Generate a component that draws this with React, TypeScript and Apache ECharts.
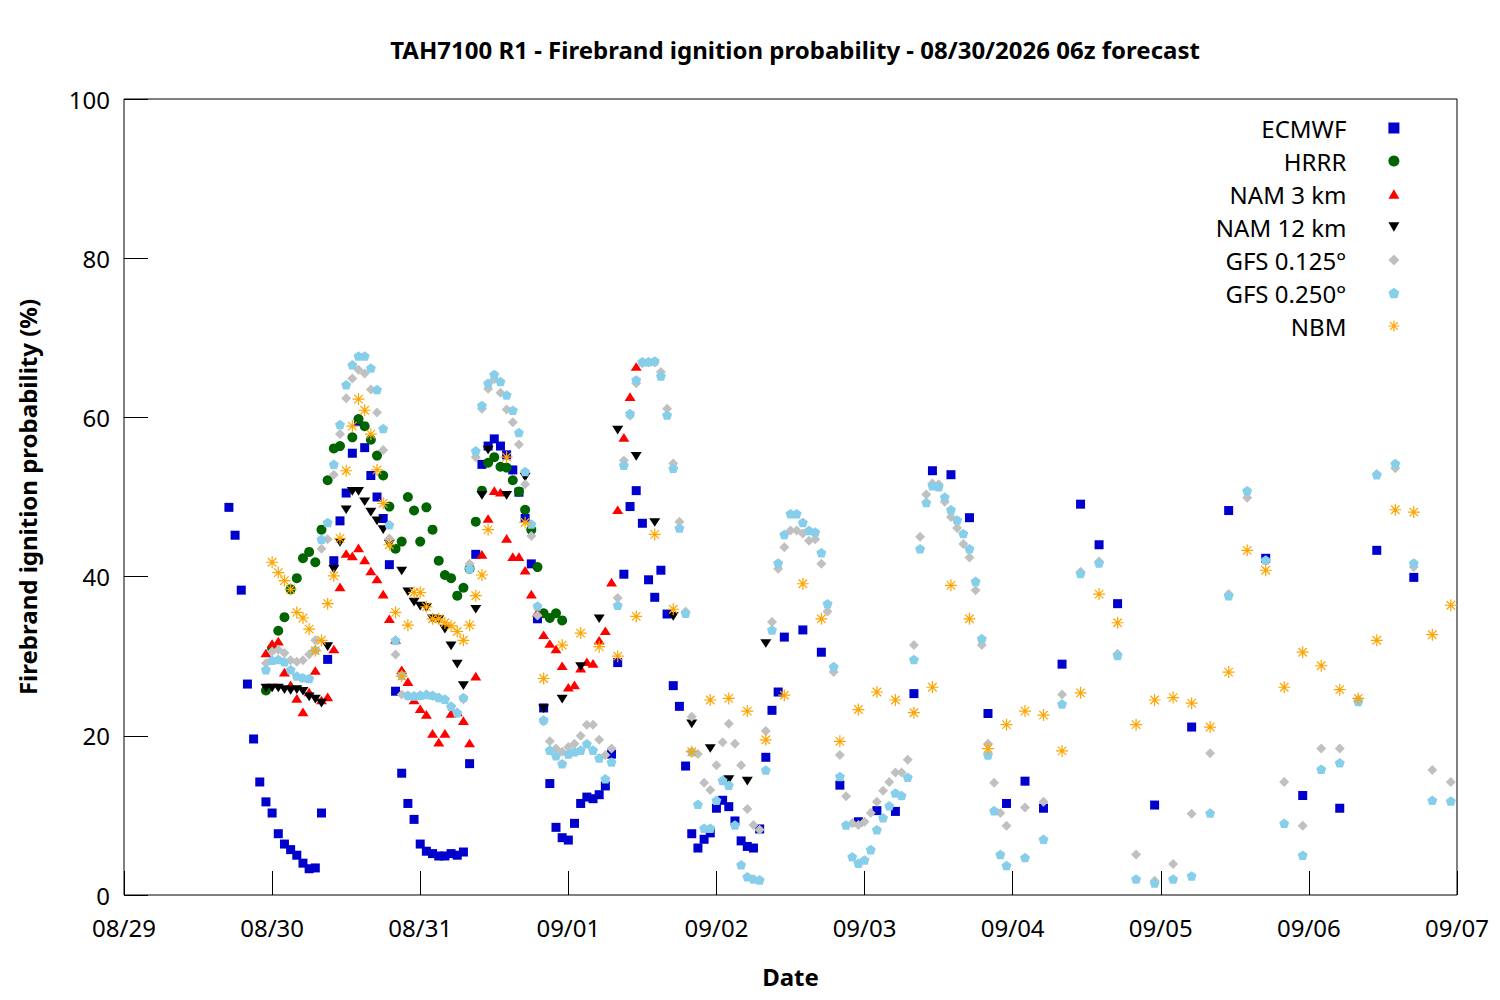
import React, { useEffect, useRef } from "react";
import * as echarts from "echarts";

// x values are hours after 08/29 00z
const dateLabels = ["08/29", "08/30", "08/31", "09/01", "09/02", "09/03", "09/04", "09/05", "09/06", "09/07"];
const seriesNames = ["ECMWF", "HRRR", "NAM 3 km", "NAM 12 km", "GFS 0.125°", "GFS 0.250°", "NBM"];

const ecmwf: [number, number][] = [
  [17, 48.7], [18, 45.2], [19, 38.3], [20, 26.5], [21, 19.6], [22, 14.2], [23, 11.7], [24, 10.3], [25, 7.7], [26, 6.4],
  [27, 5.7], [28, 5.0], [29, 4.0], [30, 3.3], [31, 3.4], [32, 10.3], [33, 29.6], [34, 42.0], [35, 47.0], [36, 50.5],
  [37, 55.5], [38, 59.5], [39, 56.2], [40, 52.7], [41, 50.0], [42, 47.3], [43, 41.5], [44, 25.6], [45, 15.3], [46, 11.5],
  [47, 9.5], [48, 6.4], [49, 5.5], [50, 5.2], [51, 4.9], [52, 4.9], [53, 5.2], [54, 5.0], [55, 5.4], [56, 16.5],
  [57, 42.8], [58, 54.1], [59, 56.4], [60, 57.3], [61, 56.4], [62, 55.3], [63, 53.4], [64, 50.6], [65, 47.3], [66, 41.6],
  [67, 34.7], [68, 23.5], [69, 14.0], [70, 8.5], [71, 7.2], [72, 6.9], [73, 9.0], [74, 11.5], [75, 12.3], [76, 12.1],
  [77, 12.6], [78, 13.7], [79, 17.7], [80, 29.2], [81, 40.3], [82, 48.8], [83, 50.8], [84, 46.7], [85, 39.6], [86, 37.4],
  [87, 40.8], [88, 35.3], [89, 26.3], [90, 23.7], [91, 16.2], [92, 7.7], [93, 5.9], [94, 7.0], [95, 7.8], [96, 10.9],
  [97, 11.9], [98, 11.1], [99, 9.3], [100, 6.8], [101, 6.1], [102, 5.9], [103, 8.3], [104, 17.3], [105, 23.2], [106, 25.5],
  [107, 32.4], [110, 33.3], [113, 30.5], [116, 13.8], [119, 9.2], [122, 10.6], [125, 10.5], [128, 25.3], [131, 53.3],
  [134, 52.8], [137, 47.4], [140, 22.8], [143, 11.5], [146, 14.3], [149, 10.9], [152, 29.0], [155, 49.1], [158, 44.0],
  [161, 36.6], [167, 11.3], [173, 21.1], [179, 48.3], [185, 42.3], [191, 12.5], [197, 10.9], [203, 43.3], [209, 39.9],
];

const hrrr: [number, number][] = [
  [23, 25.7], [24, 31.0], [25, 33.2], [26, 34.9], [27, 38.4], [28, 39.8], [29, 42.3], [30, 43.1], [31, 41.8], [32, 45.9],
  [33, 52.1], [34, 56.1], [35, 56.4], [37, 57.5], [38, 59.8], [39, 58.9], [40, 57.2], [41, 55.2], [42, 52.7],
  [43, 48.8], [44, 43.5], [45, 44.4], [46, 50.0], [47, 48.3], [48, 44.4], [49, 48.7], [50, 45.9], [51, 42.0], [52, 40.2],
  [53, 39.8], [54, 37.6], [55, 38.6], [56, 41.0], [57, 46.9], [58, 50.8], [59, 54.3], [60, 55.0], [61, 53.8], [62, 53.7],
  [63, 52.1], [64, 50.7], [65, 48.4], [66, 45.9], [67, 41.2], [68, 35.4], [69, 34.8], [70, 35.4], [71, 34.5],
];

const nam3: [number, number][] = [
  [23, 30.4], [24, 31.6], [25, 31.9], [26, 28.0], [27, 26.4], [28, 24.7], [29, 23.0], [30, 25.5], [31, 28.2], [32, 24.5],
  [33, 24.9], [34, 30.9], [35, 38.7], [36, 42.9], [37, 42.6], [38, 43.6], [39, 42.1], [40, 40.7], [41, 39.7], [42, 37.8],
  [43, 34.7], [44, 32.1], [45, 28.3], [46, 26.8], [47, 24.5], [48, 23.4], [49, 22.7], [50, 20.3], [51, 19.2], [52, 20.3],
  [53, 22.8], [54, 23.0], [55, 21.9], [56, 19.1], [57, 27.5], [58, 42.8], [59, 47.3], [60, 50.8], [61, 50.6], [62, 44.8],
  [63, 42.5], [64, 42.5], [65, 40.8], [66, 37.8], [67, 35.5], [68, 32.7], [69, 31.6], [70, 30.9], [71, 28.8], [72, 26.1],
  [73, 26.4], [74, 28.5], [75, 29.3], [76, 29.1], [77, 32.0], [78, 33.2], [79, 39.3], [80, 48.4], [81, 57.5], [82, 62.6],
  [83, 66.4],
];

const nam12: [number, number][] = [
  [23, 26.0], [24, 26.0], [25, 26.0], [26, 25.8], [27, 25.7], [28, 25.8], [29, 25.6], [30, 24.9], [31, 24.6], [32, 24.1],
  [33, 31.2], [34, 40.9], [35, 44.3], [36, 48.4], [37, 50.7], [38, 50.7], [39, 49.4], [40, 48.1], [41, 47.0], [42, 45.9],
  [43, 44.1], [45, 40.7], [46, 38.1], [47, 36.8], [48, 36.3], [49, 36.1], [50, 34.7], [51, 34.6], [52, 33.4], [53, 31.3],
  [54, 29.0], [55, 26.3], [57, 35.9], [58, 50.2], [59, 55.9], [62, 50.2], [65, 52.5], [68, 23.4], [71, 24.6], [74, 28.7],
  [77, 34.7], [80, 58.4], [83, 55.1], [86, 46.8], [89, 35.0], [92, 21.5], [95, 18.4], [98, 14.5], [101, 14.3], [104, 31.6],
];

const gfs0125: [number, number][] = [
  [23, 29.1], [24, 30.6], [25, 30.8], [26, 30.4], [27, 29.5], [28, 29.3], [29, 29.5], [30, 30.2], [31, 32.0], [32, 43.5],
  [33, 44.7], [34, 52.8], [35, 57.9], [36, 62.4], [37, 64.9], [38, 66.0], [39, 65.5], [40, 63.5], [41, 60.6], [42, 55.9],
  [43, 44.8], [44, 30.2], [45, 25.2], [46, 25.0], [47, 25.0], [48, 25.1], [49, 25.2], [50, 25.0], [51, 24.8], [52, 24.6],
  [53, 23.7], [54, 22.9], [55, 24.6], [56, 41.6], [57, 55.0], [58, 61.1], [59, 63.6], [60, 64.8], [61, 63.1], [62, 61.0],
  [63, 59.4], [64, 56.6], [65, 51.6], [66, 45.1], [67, 35.1], [68, 21.8], [69, 19.3], [70, 18.4], [71, 18.0], [72, 18.6],
  [73, 19.0], [74, 20.0], [75, 21.4], [76, 21.4], [77, 19.5], [78, 17.6], [79, 18.4], [80, 37.3], [81, 54.6], [82, 60.2],
  [83, 64.3], [84, 66.8], [85, 66.9], [86, 66.9], [87, 65.7], [88, 61.1], [89, 54.2], [90, 46.9], [91, 35.6], [92, 22.4],
  [93, 17.7], [94, 14.1], [95, 13.2], [96, 16.3], [97, 19.2], [98, 21.5], [99, 19.0], [100, 16.3], [101, 10.8], [102, 8.8],
  [103, 8.2], [104, 20.6], [105, 34.3], [106, 41.0], [107, 43.7], [108, 45.8], [109, 45.8], [110, 45.4], [111, 44.5],
  [112, 44.7], [113, 41.6], [114, 35.6], [115, 28.0], [116, 17.6], [117, 12.4], [118, 9.0], [119, 8.8], [120, 9.2],
  [121, 10.3], [122, 11.7], [123, 13.1], [124, 14.2], [125, 15.4], [126, 15.4], [127, 17.0], [128, 31.4], [129, 45.0],
  [130, 50.3], [131, 51.7], [132, 51.6], [133, 49.4], [134, 47.5], [135, 46.1], [136, 44.1], [137, 42.4], [138, 38.3],
  [139, 31.4], [140, 19.0], [141, 14.1], [142, 10.3], [143, 8.7], [146, 11.0], [149, 11.7], [152, 25.2], [155, 40.6],
  [158, 41.9], [161, 30.3], [164, 5.1], [167, 1.8], [170, 3.9], [173, 10.2], [176, 17.8], [179, 37.8], [182, 49.9],
  [185, 42.0], [188, 14.2], [191, 8.7], [194, 18.4], [197, 18.4], [200, 24.6], [203, 52.9], [206, 53.6], [209, 41.2],
  [212, 15.7], [215, 14.2],
];

const gfs0250: [number, number][] = [
  [23, 28.3], [24, 29.5], [25, 29.6], [26, 29.3], [27, 28.3], [28, 27.5], [29, 27.3], [30, 27.2], [31, 30.8], [32, 44.7],
  [33, 46.8], [34, 54.1], [35, 59.1], [36, 64.1], [37, 66.6], [38, 67.7], [39, 67.7], [40, 66.2], [41, 63.5], [42, 58.6],
  [43, 46.5], [44, 32.0], [45, 27.6], [46, 25.1], [47, 25.0], [48, 25.1], [49, 25.2], [50, 25.1], [51, 24.8], [52, 24.6],
  [53, 23.7], [54, 22.9], [55, 24.8], [56, 41.0], [57, 55.8], [58, 61.5], [59, 64.3], [60, 65.4], [61, 64.5], [62, 62.8],
  [63, 60.9], [64, 58.1], [65, 53.2], [66, 46.6], [67, 36.3], [68, 22.0], [69, 18.2], [70, 17.5], [71, 16.5], [72, 17.7],
  [73, 18.0], [74, 18.2], [75, 19.0], [76, 18.2], [77, 17.2], [78, 14.6], [79, 16.7], [80, 36.4], [81, 54.0], [82, 60.5],
  [83, 64.7], [84, 67.0], [85, 67.0], [86, 67.1], [87, 65.2], [88, 60.3], [89, 53.6], [90, 46.1], [91, 35.4], [92, 18.0],
  [93, 11.4], [94, 8.4], [95, 8.4], [96, 11.9], [97, 14.4], [98, 13.8], [99, 8.8], [100, 3.8], [101, 2.3], [102, 2.0],
  [103, 1.9], [104, 15.7], [105, 33.3], [106, 41.7], [107, 45.3], [108, 47.9], [109, 47.9], [110, 46.8], [111, 45.8],
  [112, 45.6], [113, 43.0], [114, 36.6], [115, 28.7], [116, 14.9], [117, 8.8], [118, 4.8], [119, 4.0], [120, 4.4],
  [121, 5.7], [122, 8.2], [123, 9.7], [124, 11.2], [125, 12.8], [126, 12.5], [127, 14.8], [128, 29.6], [129, 43.5],
  [130, 49.3], [131, 51.4], [132, 51.3], [133, 50.0], [134, 48.4], [135, 47.1], [136, 45.4], [137, 43.5], [138, 39.4],
  [139, 32.2], [140, 17.6], [141, 10.6], [142, 5.1], [143, 3.7], [146, 4.7], [149, 7.0], [152, 24.0], [155, 40.4],
  [158, 41.7], [161, 30.1], [164, 2.0], [167, 1.5], [170, 2.0], [173, 2.4], [176, 10.3], [179, 37.6], [182, 50.8],
  [185, 42.1], [188, 9.0], [191, 5.0], [194, 15.8], [197, 16.6], [200, 24.3], [203, 52.8], [206, 54.2], [209, 41.7],
  [212, 11.9], [215, 11.8],
];

const nbm: [number, number][] = [
  [24, 41.8], [25, 40.5], [26, 39.5], [27, 38.4], [28, 35.5], [29, 34.8], [30, 33.4], [31, 30.7], [32, 32.0], [33, 36.6],
  [34, 40.1], [35, 44.8], [36, 53.3], [37, 58.9], [38, 62.3], [39, 60.9], [40, 57.9], [41, 53.4], [42, 49.2], [43, 44.0],
  [44, 35.5], [45, 27.5], [46, 33.9], [47, 38.0], [48, 38.0], [49, 36.2], [50, 34.7], [51, 34.7], [52, 34.2], [53, 33.8],
  [54, 33.1], [55, 32.0], [56, 33.9], [57, 37.6], [58, 40.2], [59, 45.9], [62, 55.0], [65, 46.8], [68, 27.2], [71, 31.4],
  [74, 32.9], [77, 31.2], [80, 30.0], [83, 35.0], [86, 45.3], [89, 35.9], [92, 18.0], [95, 24.5], [98, 24.7], [101, 23.1],
  [104, 19.5], [107, 25.1], [110, 39.1], [113, 34.7], [116, 19.3], [119, 23.3], [122, 25.5], [125, 24.5], [128, 22.9],
  [131, 26.1], [134, 38.9], [137, 34.7], [140, 18.4], [143, 21.4], [146, 23.1], [149, 22.6], [152, 18.1], [155, 25.4],
  [158, 37.8], [161, 34.2], [164, 21.4], [167, 24.5], [170, 24.8], [173, 24.1], [176, 21.1], [179, 28.0], [182, 43.3],
  [185, 40.8], [188, 26.1], [191, 30.5], [194, 28.8], [197, 25.8], [200, 24.7], [203, 32.0], [206, 48.4], [209, 48.1],
  [212, 32.7], [215, 36.4],
];

const STAR = "path://M0 5L10 5M5 0L5 10M1.46 1.46L8.54 8.54M8.54 1.46L1.46 8.54";
const PENT = "path://M5 0L10 3.63L8.09 9.51L1.91 9.51L0 3.63Z";
const TRI_UP = "path://M5 0L10 8.66L0 8.66Z";
const TRI_DOWN = "path://M0 0L10 0L5 8.66Z";

const FONT = "Noto Sans";
const TICK_LEN = 12;

// Ticks point into the plot: each axis line is shifted inward by the tick length
// (offset < 0) and draws outward ticks that end on the plot border.
const tick = () => ({ show: true, inside: false, length: TICK_LEN, lineStyle: { color: "#000", width: 1 } });

export default function App() {
  const ref = useRef<HTMLDivElement>(null);
  useEffect(() => {
    if (!ref.current) return;
    const chart = echarts.init(ref.current, undefined, { renderer: "svg" });
    const mk = (name: string, data: [number, number][], symbol: string, size: number | number[], color: string, extra: any = {}) => ({
      name,
      type: "scatter",
      data,
      symbol,
      symbolSize: size,
      symbolKeepAspect: true,
      itemStyle: { color, opacity: 1, ...extra },
      emphasis: { disabled: true },
      xAxisIndex: 0,
      yAxisIndex: 0,
    });
    chart.setOption({
      animation: false,
      textStyle: { fontFamily: FONT },
      title: {
        text: "TAH7100 R1 - Firebrand ignition probability - 08/30/2026 06z forecast",
        left: 790,
        textAlign: "center",
        top: 32,
        textStyle: { fontSize: 24, fontWeight: "bold", color: "#000", fontFamily: FONT },
      },
      legend: {
        orient: "vertical",
        align: "right",
        right: 95,
        top: 111,
        itemGap: 9,
        itemWidth: 11,
        itemHeight: 11,
        selectedMode: false,
        textStyle: { fontSize: 24, color: "#000", fontFamily: FONT, width: 170, lineHeight: 24, padding: [0, 37, 0, 0] },
        data: seriesNames.map((n) =>
          n === "NBM" ? { name: n, itemStyle: { color: "#ffa500", borderColor: "#ffa500", borderWidth: 1.2 } } : { name: n }
        ),
      },
      grid: { left: 124, right: 43, top: 99, bottom: 105, show: true, borderColor: "#000", borderWidth: 1 },
      xAxis: [
        {
          type: "value",
          min: 0,
          max: 216,
          interval: 24,
          position: "bottom",
          offset: -TICK_LEN,
          axisLine: { show: false },
          axisTick: tick(),
          splitLine: { show: false },
          axisLabel: {
            formatter: (v: number) => dateLabels[Math.round(v / 24)] ?? "",
            fontSize: 24,
            color: "#000",
            margin: 20 + TICK_LEN,
            showMinLabel: true,
            showMaxLabel: true,
            fontFamily: FONT,
          },
          name: "Date",
          nameLocation: "middle",
          nameGap: 69 + TICK_LEN,
          nameTextStyle: { fontSize: 24, fontWeight: "bold", color: "#000", fontFamily: FONT },
        },
        {
          type: "value",
          min: 0,
          max: 216,
          interval: 24,
          position: "top",
          offset: -TICK_LEN,
          axisLine: { show: false },
          axisTick: tick(),
          splitLine: { show: false },
          axisLabel: { show: false },
        },
      ],
      yAxis: [
        {
          type: "value",
          min: 0,
          max: 100,
          interval: 20,
          position: "left",
          offset: -TICK_LEN,
          axisLine: { show: false },
          axisTick: tick(),
          splitLine: { show: false },
          axisLabel: { fontSize: 24, color: "#000", margin: 14 + TICK_LEN, fontFamily: FONT },
          name: "Firebrand ignition probability (%)",
          nameLocation: "middle",
          nameGap: 85 + TICK_LEN,
          nameTextStyle: { fontSize: 24, fontWeight: "bold", color: "#000", fontFamily: FONT },
        },
        {
          type: "value",
          min: 0,
          max: 100,
          interval: 20,
          position: "right",
          offset: -TICK_LEN,
          axisLine: { show: false },
          axisTick: tick(),
          splitLine: { show: false },
          axisLabel: { show: false },
        },
      ],
      series: [
        mk("ECMWF", ecmwf, "rect", 9, "#0000cc"),
        mk("HRRR", hrrr, "circle", 10, "#006400"),
        mk("NAM 3 km", nam3, TRI_UP, [11, 10], "#ff0000"),
        mk("NAM 12 km", nam12, TRI_DOWN, [11, 10], "#000000"),
        mk("GFS 0.125°", gfs0125, "diamond", [10, 10], "#c0c0c0"),
        mk("GFS 0.250°", gfs0250, PENT, 10, "#87ceeb"),
        mk("NBM", nbm, STAR, 12, "#ffa500", { borderColor: "#ffa500", borderWidth: 1.2 }),
      ],
    });
    return () => chart.dispose();
  }, []);
  return (
    <div
      ref={ref}
      style={{ position: "fixed", left: 0, top: 0, width: 1500, height: 1000, background: "#fff" }}
    />
  );
}
